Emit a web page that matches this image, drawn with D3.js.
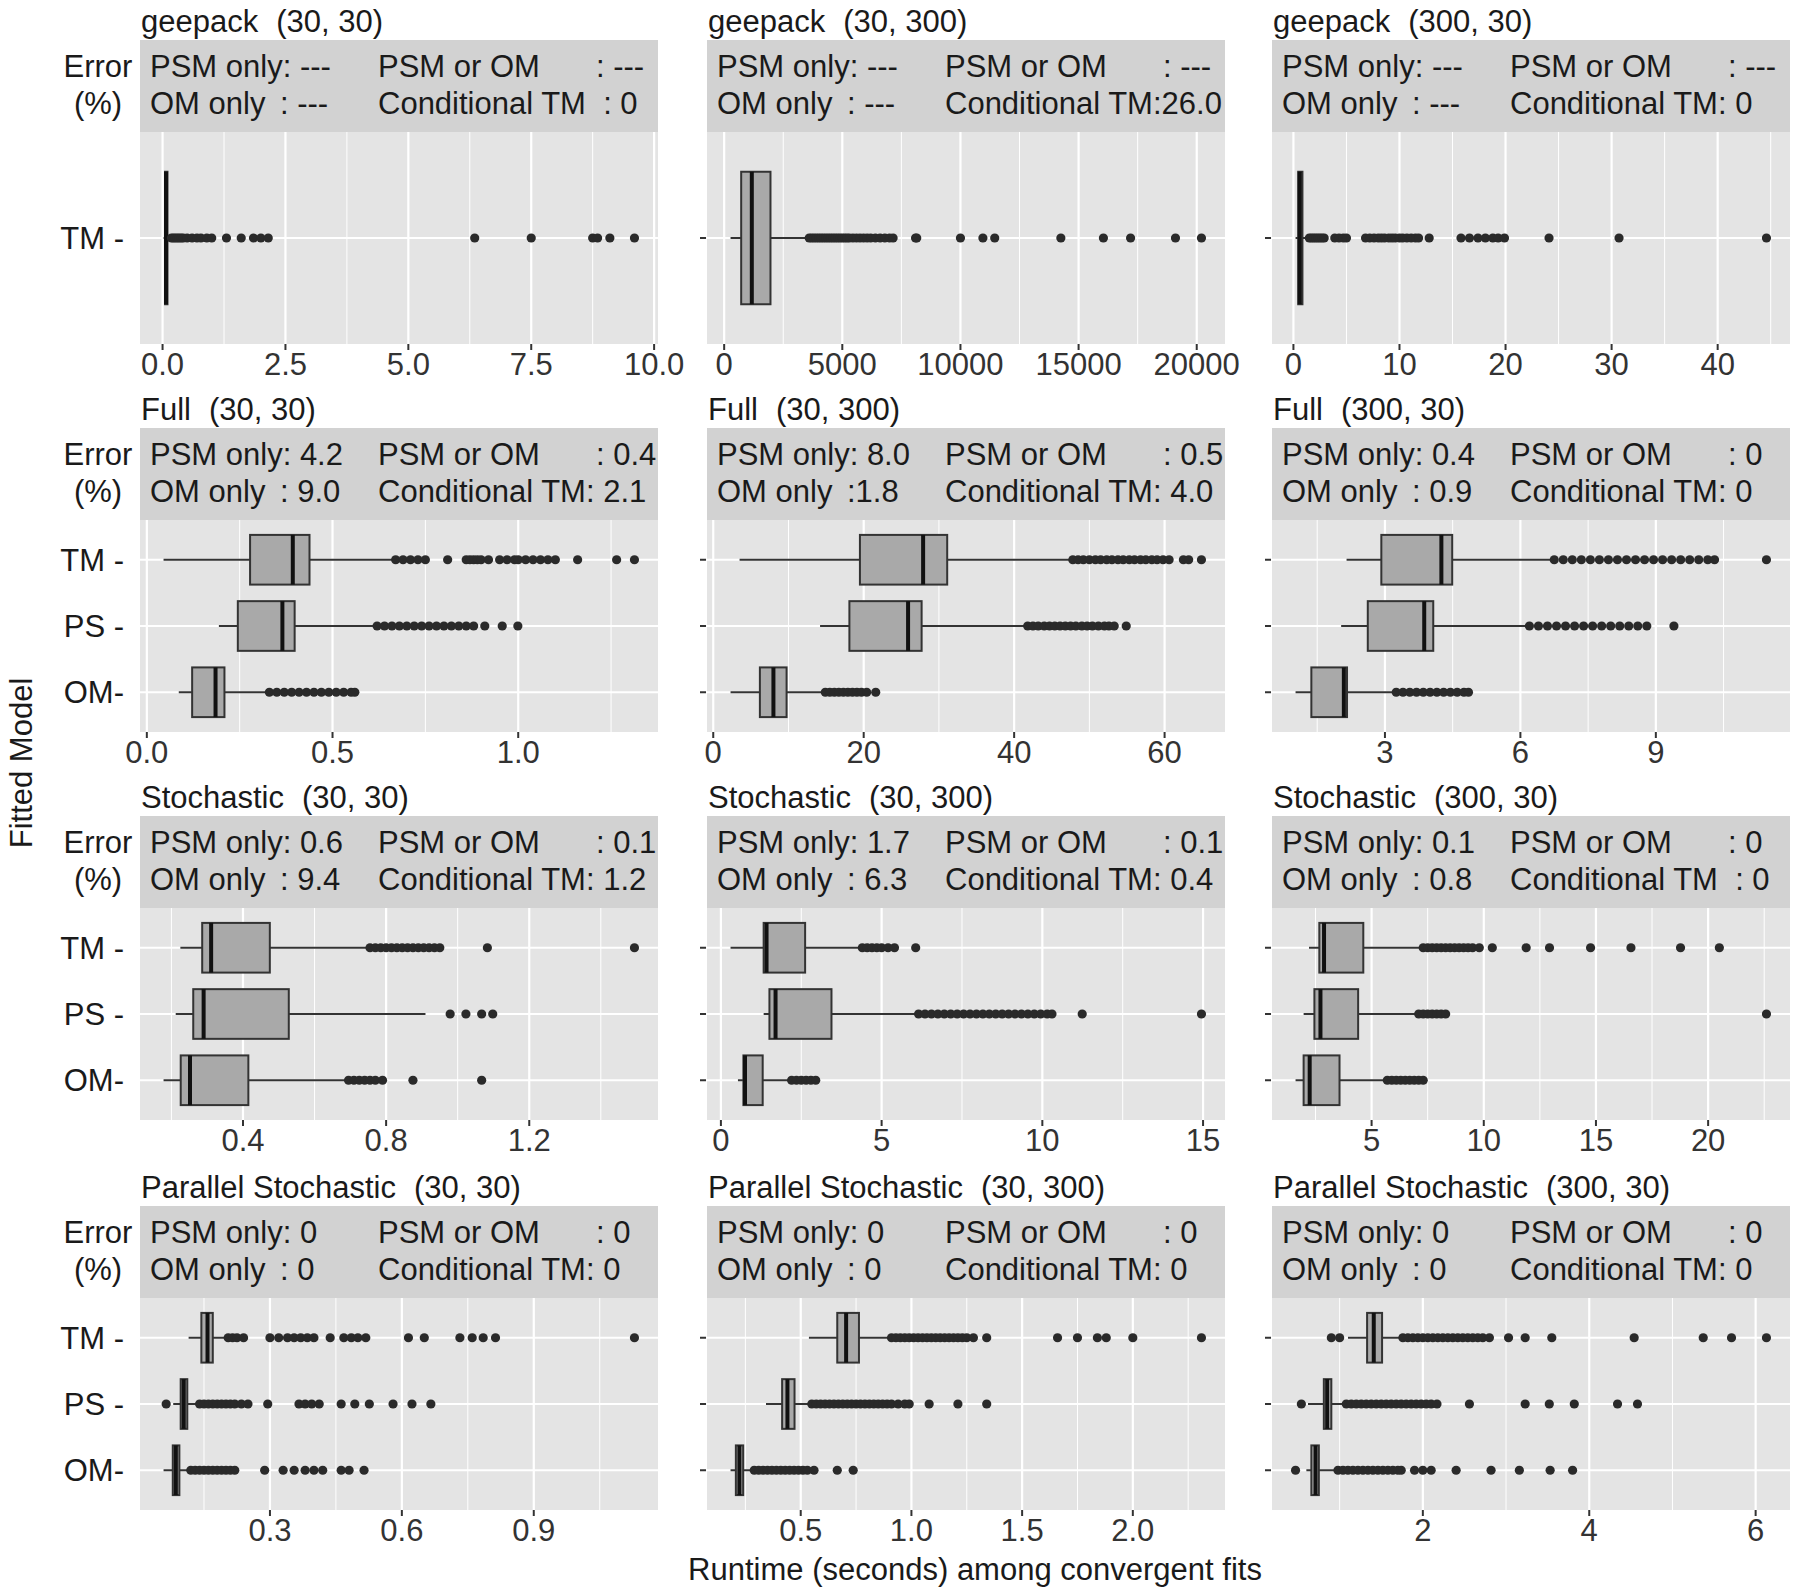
<!DOCTYPE html>
<html lang="en">
<head>
<meta charset="UTF-8">
<title>Runtime among convergent fits</title>
<script src="https://d3js.org/d3.v7.min.js"></script>
<style>
  body { margin: 0; background: #fff; }
  text { font-family: "Liberation Sans", Arial, sans-serif; fill: #1a1a1a; }
  .strip text { white-space: pre; }
</style>
</head>
<body>
<div id="chart"></div>
<script>
// ---- data ----
const models = ["TM", "PS", "OM"];
const methods = ["geepack", "Full", "Stochastic", "Parallel Stochastic"];
const settings = ["(30, 30)", "(30, 300)", "(300, 30)"];

// error rates (%) shown in the strips, row-major (method x setting)
const errPsmOnly = ["---", "---", "---", "4.2", "8.0", "0.4", "0.6", "1.7", "0.1", "0", "0", "0"];
const errOmOnly  = [": ---", ": ---", ": ---", ": 9.0", ":1.8", ": 0.9", ": 9.4", ": 6.3", ": 0.8", ": 0", ": 0", ": 0"];
const errPsmOrOm = ["---", "---", "---", "0.4", "0.5", "0", "0.1", "0.1", "0", "0", "0", "0"];
const errCondTM  = ["  : 0", ":26.0", ": 0", ": 2.1", ": 4.0", ": 0", ": 1.2", ": 0.4", "  : 0", ": 0", ": 0", ": 0"];

// box stats per model: [lower whisker, q1, median, q3, upper whisker]
const geeStats_30_30 = [[0.02, 0.05, 0.07, 0.1, 0.16]];
const geeOut_30_30 = [[0.18, 0.22, 0.26, 0.3, 0.34, 0.38, 0.42, 0.5, 0.6, 0.7, 0.78, 0.9, 1.0, 1.3, 1.6, 1.85, 2.0, 2.15, 6.35, 7.5, 8.75, 8.85, 9.1, 9.6]];
const geeStats_30_300 = [[270, 720, 1170, 1960, 3570]];
const geeOut_30_300 = [[3600, 3700, 3800, 3900, 4000, 4100, 4200, 4300, 4400, 4500, 4600, 4700, 4800, 4900, 5000, 5100, 5200, 5300, 5450, 5600, 5750, 5900, 6050, 6200, 6400, 6600, 6800, 7000, 7150, 8100, 8150, 10000, 10950, 11450, 14250, 16050, 17200, 19100, 20200]];
const geeStats_300_30 = [[0.2, 0.45, 0.6, 0.85, 1.3]];
const geeOut_300_30 = [[1.5, 1.7, 1.9, 2.1, 2.3, 2.5, 2.7, 2.9, 3.9, 4.3, 4.7, 5.0, 6.8, 7.2, 7.6, 8.0, 8.3, 8.6, 9.0, 9.3, 9.6, 10.0, 10.3, 10.7, 11.1, 11.5, 11.8, 12.8, 15.8, 16.6, 17.4, 18.1, 18.8, 19.3, 19.9, 24.1, 30.7, 44.6]];

const fullStats_30_30 = [[0.045, 0.278, 0.393, 0.438, 0.667], [0.194, 0.245, 0.365, 0.398, 0.619], [0.086, 0.122, 0.185, 0.209, 0.327]];
const fullOut_30_30 = [
  [0.67, 0.69, 0.71, 0.73, 0.75, 0.81, 0.86, 0.87, 0.88, 0.89, 0.9, 0.92, 0.95, 0.97, 0.99, 1.0, 1.02, 1.04, 1.06, 1.08, 1.1, 1.16, 1.265, 1.313],
  [0.62, 0.64, 0.66, 0.68, 0.7, 0.72, 0.74, 0.76, 0.78, 0.8, 0.82, 0.84, 0.86, 0.88, 0.91, 0.957, 0.999],
  [0.33, 0.35, 0.37, 0.39, 0.41, 0.43, 0.45, 0.47, 0.49, 0.51, 0.53, 0.55, 0.56]];
const fullStats_30_300 = [[3.5, 19.5, 27.9, 31.1, 47.6], [14.2, 18.1, 25.9, 27.7, 41.6], [2.3, 6.2, 8.0, 9.75, 14.7]];
const fullOut_30_300 = [
  [47.8, 48.5, 49.2, 50, 50.8, 51.5, 52.3, 53, 53.8, 54.5, 55.3, 56, 56.8, 57.5, 58.3, 59, 59.8, 60.6, 62.5, 63.2, 64.9],
  [41.8, 42.5, 43.2, 44, 44.7, 45.4, 46.1, 46.8, 47.5, 48.2, 49, 49.7, 50.4, 51.2, 52, 52.6, 53.3, 54.9],
  [14.9, 15.5, 16.1, 16.7, 17.3, 17.9, 18.5, 19.1, 19.7, 20.4, 21.6]];
const fullStats_300_30 = [[2.15, 2.92, 4.25, 4.49, 6.73], [2.03, 2.62, 3.87, 4.07, 6.19], [1.02, 1.37, 2.09, 2.16, 3.24]];
const fullOut_300_30 = [
  [6.75, 6.95, 7.15, 7.35, 7.55, 7.75, 7.95, 8.15, 8.35, 8.55, 8.75, 8.95, 9.15, 9.35, 9.55, 9.75, 9.95, 10.15, 10.3, 11.45],
  [6.2, 6.4, 6.6, 6.8, 7.0, 7.2, 7.4, 7.6, 7.8, 8.0, 8.2, 8.4, 8.6, 8.8, 9.4],
  [3.25, 3.4, 3.55, 3.7, 3.85, 4.0, 4.15, 4.3, 4.45, 4.6, 4.75, 4.85]];

const stoStats_30_30 = [[0.225, 0.286, 0.311, 0.475, 0.75], [0.212, 0.261, 0.29, 0.528, 0.91], [0.178, 0.226, 0.252, 0.415, 0.69]];
const stoOut_30_30 = [
  [0.755, 0.77, 0.785, 0.8, 0.815, 0.83, 0.845, 0.86, 0.875, 0.89, 0.905, 0.92, 0.935, 0.95, 1.083, 1.494],
  [0.979, 1.023, 1.067, 1.098],
  [0.695, 0.71, 0.725, 0.74, 0.755, 0.77, 0.79, 0.875, 1.067]];
const stoStats_30_300 = [[0.3, 1.33, 1.42, 2.62, 4.36], [1.33, 1.51, 1.7, 3.44, 6.13], [0.53, 0.7, 0.75, 1.3, 2.14]];
const stoOut_30_300 = [
  [4.4, 4.55, 4.7, 4.85, 5.0, 5.2, 5.4, 6.06],
  [6.15, 6.35, 6.55, 6.75, 6.95, 7.15, 7.35, 7.55, 7.75, 7.95, 8.15, 8.35, 8.55, 8.75, 8.95, 9.15, 9.35, 9.55, 9.75, 9.95, 10.15, 10.3, 11.24, 14.95],
  [2.2, 2.35, 2.5, 2.65, 2.8, 2.95]];
const stoStats_300_30 = [[2.21, 2.67, 2.88, 4.63, 7.26], [1.97, 2.45, 2.72, 4.4, 7.03], [1.61, 1.97, 2.24, 3.57, 5.67]];
const stoOut_300_30 = [
  [7.3, 7.5, 7.7, 7.9, 8.1, 8.3, 8.5, 8.7, 8.9, 9.1, 9.3, 9.5, 9.8, 10.38, 11.89, 12.93, 14.76, 16.56, 18.77, 20.5],
  [7.1, 7.3, 7.5, 7.7, 7.9, 8.1, 8.3, 22.6],
  [5.7, 5.9, 6.1, 6.3, 6.5, 6.7, 6.9, 7.1, 7.3]];

const parStats_30_30 = [[0.115, 0.144, 0.158, 0.17, 0.203], [0.08, 0.097, 0.104, 0.112, 0.137], [0.058, 0.079, 0.086, 0.094, 0.117]];
const parOut_30_30 = [
  [0.205, 0.215, 0.225, 0.24, 0.3, 0.32, 0.34, 0.355, 0.37, 0.385, 0.4, 0.437, 0.468, 0.485, 0.5, 0.518, 0.615, 0.651, 0.732, 0.76, 0.785, 0.813, 1.129],
  [0.064, 0.14, 0.15, 0.16, 0.17, 0.18, 0.19, 0.2, 0.21, 0.22, 0.235, 0.25, 0.295, 0.366, 0.38, 0.395, 0.412, 0.462, 0.493, 0.526, 0.58, 0.623, 0.666],
  [0.12, 0.13, 0.14, 0.15, 0.16, 0.17, 0.18, 0.19, 0.2, 0.21, 0.22, 0.288, 0.33, 0.355, 0.38, 0.4, 0.42, 0.462, 0.48, 0.514]];
const parStats_30_300 = [[0.537, 0.665, 0.705, 0.763, 0.9], [0.343, 0.416, 0.44, 0.472, 0.537], [0.183, 0.207, 0.223, 0.24, 0.278]];
const parOut_30_300 = [
  [0.91, 0.93, 0.95, 0.97, 0.99, 1.01, 1.03, 1.05, 1.07, 1.09, 1.11, 1.13, 1.15, 1.17, 1.19, 1.21, 1.23, 1.25, 1.28, 1.34, 1.66, 1.75, 1.84, 1.88, 2.0, 2.31],
  [0.55, 0.57, 0.59, 0.61, 0.63, 0.65, 0.67, 0.69, 0.71, 0.73, 0.75, 0.77, 0.79, 0.81, 0.83, 0.85, 0.87, 0.89, 0.91, 0.94, 0.97, 0.99, 1.08, 1.21, 1.34],
  [0.29, 0.31, 0.33, 0.35, 0.37, 0.39, 0.41, 0.43, 0.45, 0.47, 0.49, 0.51, 0.53, 0.56, 0.665, 0.737]];
const parStats_300_30 = [[1.1, 1.33, 1.41, 1.51, 1.74], [0.62, 0.81, 0.85, 0.9, 1.05], [0.6, 0.66, 0.71, 0.75, 0.97]];
const parOut_300_30 = [
  [0.9, 1.0, 1.76, 1.82, 1.88, 1.94, 2.0, 2.06, 2.12, 2.18, 2.24, 2.3, 2.36, 2.42, 2.48, 2.54, 2.6, 2.66, 2.72, 2.8, 3.03, 3.23, 3.55, 4.54, 5.37, 5.71, 6.13],
  [0.54, 1.08, 1.14, 1.2, 1.26, 1.32, 1.38, 1.44, 1.5, 1.56, 1.62, 1.68, 1.74, 1.8, 1.86, 1.92, 1.98, 2.04, 2.1, 2.17, 2.56, 3.23, 3.52, 3.82, 4.34, 4.58],
  [0.47, 0.98, 1.04, 1.1, 1.16, 1.22, 1.28, 1.34, 1.4, 1.46, 1.52, 1.58, 1.64, 1.7, 1.74, 1.9, 2.0, 2.1, 2.4, 2.82, 3.16, 3.53, 3.8]];

// x tick labels per panel (row-major)
const tickLabels = [
  ["0.0", "2.5", "5.0", "7.5", "10.0"], ["0", "5000", "10000", "15000", "20000"], ["0", "10", "20", "30", "40"],
  ["0.0", "0.5", "1.0"], ["0", "20", "40", "60"], ["3", "6", "9"],
  ["0.4", "0.8", "1.2"], ["0", "5", "10", "15"], ["5", "10", "15", "20"],
  ["0.3", "0.6", "0.9"], ["0.5", "1.0", "1.5", "2.0"], ["2", "4", "6"]
];

const panelStats = [geeStats_30_30, geeStats_30_300, geeStats_300_30,
  fullStats_30_30, fullStats_30_300, fullStats_300_30,
  stoStats_30_30, stoStats_30_300, stoStats_300_30,
  parStats_30_30, parStats_30_300, parStats_300_30];
const panelOut = [geeOut_30_30, geeOut_30_300, geeOut_300_30,
  fullOut_30_30, fullOut_30_300, fullOut_300_30,
  stoOut_30_30, stoOut_30_300, stoOut_300_30,
  parOut_30_30, parOut_30_300, parOut_300_30];

// ---- layout ----
const W = 1800, H = 1593;
const colLeft = [140, 707, 1272], panelW = 518;
const rowTop = [40, 428, 816, 1206], stripH = 92, panelH = 212;
const fs = 31;

const svg = d3.select("#chart").append("svg")
  .attr("width", W).attr("height", H)
  .style("font-size", fs + "px");

svg.append("rect").attr("width", W).attr("height", H).attr("fill", "#fff");

panelStats.forEach((stats, i) => {
  const r = Math.floor(i / 3), c = i % 3;
  const x0 = colLeft[c], x1 = x0 + panelW;
  const sTop = rowTop[r], pTop = sTop + stripH, pBot = pTop + panelH;
  const outs = panelOut[i];

  const all = stats.flatMap(s => [s[0], s[4]]).concat(outs.flat());
  const [lo, hi] = d3.extent(all);
  const pad = (hi - lo) * 0.05;
  const x = d3.scaleLinear().domain([lo - pad, hi + pad]).range([x0, x1]);
  const cats = models.slice(0, stats.length);
  const y = d3.scalePoint().domain(cats).range([pTop, pBot]).padding(0.6);
  const bw = y.step() * 0.75;

  const g = svg.append("g");

  // title
  const t = g.append("text").attr("x", x0 + 1).attr("y", sTop - 8);
  t.append("tspan").text(methods[r]);
  t.append("tspan").attr("dx", 18).text(settings[c]);

  // strip with error rates
  const strip = g.append("g").attr("class", "strip");
  strip.append("rect").attr("x", x0).attr("y", sTop).attr("width", panelW).attr("height", stripH)
    .attr("fill", "#d2d2d2");
  const b1 = sTop + 37, b2 = sTop + 74;
  strip.append("text").attr("x", x0 + 10).attr("y", b1).text("PSM only: " + errPsmOnly[i]);
  strip.append("text").attr("x", x0 + 238).attr("y", b1).text("PSM or OM");
  strip.append("text").attr("x", x0 + 456).attr("y", b1).text(": " + errPsmOrOm[i]);
  strip.append("text").attr("x", x0 + 10).attr("y", b2).text("OM only");
  strip.append("text").attr("x", x0 + 140).attr("y", b2).text(errOmOnly[i]);
  strip.append("text").attr("x", x0 + 238).attr("y", b2).text("Conditional TM" + errCondTM[i]);

  if (c === 0) {
    g.append("text").attr("x", 98).attr("y", b1).attr("text-anchor", "middle").text("Error");
    g.append("text").attr("x", 98).attr("y", b2).attr("text-anchor", "middle").text("(%)");
  }

  // panel background and grid
  g.append("rect").attr("x", x0).attr("y", pTop).attr("width", panelW).attr("height", panelH)
    .attr("fill", "#e4e4e4");
  const major = tickLabels[i].map(Number);
  const step = major[1] - major[0];
  const dom = x.domain();
  const minor = [];
  for (let v = major[0] - step / 2; v <= dom[1]; v += step) if (v >= dom[0]) minor.push(v);
  g.selectAll(".minor").data(minor).join("line")
    .attr("x1", d => x(d)).attr("x2", d => x(d)).attr("y1", pTop).attr("y2", pBot)
    .attr("stroke", "#fff").attr("stroke-width", 1);
  g.selectAll(".major").data(major).join("line")
    .attr("x1", d => x(d)).attr("x2", d => x(d)).attr("y1", pTop).attr("y2", pBot)
    .attr("stroke", "#fff").attr("stroke-width", 2.2);
  g.selectAll(".hgrid").data(cats).join("line")
    .attr("x1", x0).attr("x2", x1).attr("y1", d => y(d)).attr("y2", d => y(d))
    .attr("stroke", "#fff").attr("stroke-width", 2.2);

  // x axis ticks and labels
  g.selectAll(".xt").data(major).join("line")
    .attr("x1", d => x(d)).attr("x2", d => x(d)).attr("y1", pBot).attr("y2", pBot + 6)
    .attr("stroke", "#333").attr("stroke-width", 2);
  g.selectAll(".xl").data(tickLabels[i]).join("text")
    .attr("x", d => x(+d)).attr("y", pBot + 31).attr("text-anchor", "middle")
    .style("fill", "#333").text(d => d);

  // y axis
  if (c === 0) {
    g.selectAll(".yl").data(cats).join("text")
      .attr("x", 124).attr("y", d => y(d)).attr("dy", "0.35em").attr("text-anchor", "end")
      .text(d => d === "OM" ? "OM-" : d + " -");
  } else {
    g.selectAll(".yt").data(cats).join("line")
      .attr("x1", x0 - 7).attr("x2", x0 - 1).attr("y1", d => y(d)).attr("y2", d => y(d))
      .attr("stroke", "#333").attr("stroke-width", 2);
  }

  // boxplots
  stats.forEach((s, k) => {
    const cy = y(cats[k]);
    g.append("line").attr("x1", x(s[0])).attr("x2", x(s[1])).attr("y1", cy).attr("y2", cy)
      .attr("stroke", "#333").attr("stroke-width", 2);
    g.append("line").attr("x1", x(s[3])).attr("x2", x(s[4])).attr("y1", cy).attr("y2", cy)
      .attr("stroke", "#333").attr("stroke-width", 2);
    g.append("rect").attr("x", x(s[1])).attr("y", cy - bw / 2)
      .attr("width", x(s[3]) - x(s[1])).attr("height", bw)
      .attr("fill", "#a9a9a9").attr("stroke", "#333").attr("stroke-width", 2);
    g.append("line").attr("x1", x(s[2])).attr("x2", x(s[2])).attr("y1", cy - bw / 2).attr("y2", cy + bw / 2)
      .attr("stroke", "#111").attr("stroke-width", 4);
    g.selectAll(null).data(outs[k]).join("circle")
      .attr("cx", d => x(d)).attr("cy", cy).attr("r", 4.6)
      .attr("fill", "#2a2a2a");
  });
});

// axis titles
svg.append("text").attr("x", 975).attr("y", 1580).attr("text-anchor", "middle")
  .text("Runtime (seconds) among convergent fits");
svg.append("text").attr("transform", "translate(32,763) rotate(-90)").attr("text-anchor", "middle")
  .text("Fitted Model");
</script>
</body>
</html>
